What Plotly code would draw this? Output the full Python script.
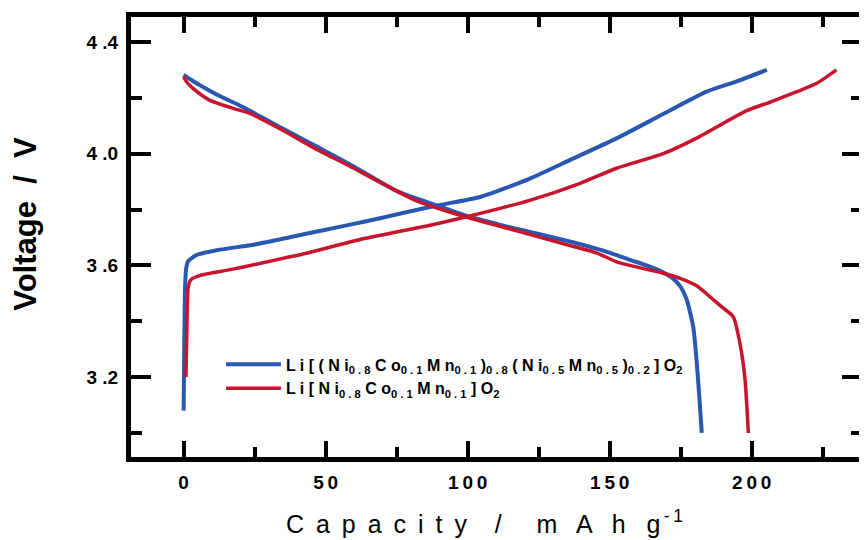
import plotly.graph_objects as go

# ---- data (capacity in mAh/g, voltage in V) ----
blue_charge_cap = [0.0, 0.2, 0.5, 0.9, 1.6, 4.5, 12, 25, 37, 50, 63.9, 76, 88.4, 104.7, 122.1, 136.1, 152.4, 168.8, 184.1, 194.7, 205.3]
blue_charge_v = [3.08, 3.30, 3.52, 3.59, 3.615, 3.637, 3.655, 3.675, 3.70, 3.728, 3.757, 3.785, 3.813, 3.846, 3.912, 3.978, 4.055, 4.142, 4.222, 4.259, 4.30]

blue_dis_cap = [0.0, 3.0, 5.6, 12, 20.7, 34.7, 46, 58, 75.5, 89.5, 98.8, 116.3, 133.8, 145.3, 152.4, 157.1, 163, 168.8, 172, 174.7, 177.1, 179.4, 180.6, 181.5, 182.4]
blue_dis_v = [4.282, 4.262, 4.246, 4.21, 4.168, 4.091, 4.03, 3.965, 3.864, 3.813, 3.78, 3.733, 3.691, 3.66, 3.637, 3.62, 3.60, 3.575, 3.555, 3.527, 3.477, 3.379, 3.256, 3.133, 3.0]

red_charge_cap = [0.8, 1.2, 1.6, 2.5, 6, 16, 26, 37, 40.6, 63.9, 87.2, 100, 122.1, 139.6, 152.4, 168.8, 180.6, 198.2, 206.5, 215.9, 222.9, 229.8]
red_charge_v = [3.20, 3.40, 3.52, 3.548, 3.565, 3.584, 3.605, 3.63, 3.637, 3.697, 3.745, 3.775, 3.834, 3.894, 3.948, 4.0, 4.056, 4.154, 4.185, 4.222, 4.252, 4.30]

red_dis_cap = [0.0, 1.2, 3.3, 9.1, 17.2, 23.1, 34.7, 46, 58, 81.4, 98.8, 116.3, 133.8, 145.3, 152.4, 157.1, 168.8, 175, 180.6, 186.5, 190, 193.5, 195.9, 197.6, 198.8]
red_dis_v = [4.276, 4.255, 4.234, 4.192, 4.163, 4.145, 4.085, 4.02, 3.958, 3.834, 3.775, 3.727, 3.677, 3.645, 3.613, 3.60, 3.572, 3.553, 3.527, 3.477, 3.447, 3.416, 3.317, 3.194, 3.0]

blue_name = ("L i [ ( N i<sub>0 . 8</sub> C o<sub>0 . 1</sub> M n<sub>0 . 1</sub> )<sub>0 . 8</sub>"
             " ( N i<sub>0 . 5</sub> M n<sub>0 . 5</sub> )<sub>0 . 2</sub> ] O<sub>2</sub>")
red_name = "L i [ N i<sub>0 . 8</sub> C o<sub>0 . 1</sub> M n<sub>0 . 1</sub> ] O<sub>2</sub>"

x_tickvals = [0, 50, 100, 150, 200]
x_ticktext = ["0", "5\u20090", "1\u20090\u20090", "1\u20095\u20090", "2\u20090\u20090"]
x_minor_vals = [25, 75, 125, 175, 225]
y_tickvals = [3.2, 3.6, 4.0, 4.4]
y_ticktext = ["3\u00a0.2", "3\u00a0.6", "4\u00a0.0", "4\u00a0.4"]
y_minor_vals = [3.0, 3.4, 3.8, 4.2]

x_title_words = ["Capacity", "/", "mAh", "g"]
y_title = "Voltage\u00a0\u00a0/\u00a0\u00a0V"

BLUE = "#2a58b0"
RED = "#c8142c"

sep = "\u00a0\u2009"
x_title = (sep.join(x_title_words[0]) + "\u00a0" * 4 + x_title_words[1] +
           "\u00a0" * 5 + "\u00a0\u00a0\u2009".join(x_title_words[2]) + "\u00a0" * 3 +
           x_title_words[3] + "<sup>\u2009-\u20091</sup>")

fig = go.Figure()
fig.add_trace(go.Scatter(x=blue_charge_cap, y=blue_charge_v, mode="lines",
                         line=dict(color=BLUE, width=4, shape="spline", smoothing=0.6),
                         name=blue_name, legendgroup="b", showlegend=True))
fig.add_trace(go.Scatter(x=blue_dis_cap, y=blue_dis_v, mode="lines",
                         line=dict(color=BLUE, width=4, shape="spline", smoothing=0.6),
                         name=blue_name, legendgroup="b", showlegend=False))
fig.add_trace(go.Scatter(x=red_charge_cap, y=red_charge_v, mode="lines",
                         line=dict(color=RED, width=3.5, shape="spline", smoothing=0.6),
                         name=red_name, legendgroup="r", showlegend=True))
fig.add_trace(go.Scatter(x=red_dis_cap, y=red_dis_v, mode="lines",
                         line=dict(color=RED, width=3.5, shape="spline", smoothing=0.6),
                         name=red_name, legendgroup="r", showlegend=False))

FONT = "Liberation Sans, Arial, sans-serif"

# page body has an 8px default margin, so the figure is 8px smaller than the window
fig.update_layout(
    width=859, height=532,
    margin=dict(l=123, r=0, t=9, b=83),
    paper_bgcolor="white", plot_bgcolor="white",
    font=dict(family=FONT, color="black"),
    showlegend=True,
    legend=dict(x=0.123, y=0.249, xanchor="left", yanchor="top",
                bgcolor="rgba(0,0,0,0)", borderwidth=0,
                font=dict(size=16, family=FONT, color="black", weight="bold"),
                itemwidth=55, tracegroupgap=0),
    xaxis=dict(range=[-18.53, 238.8], tickmode="array", tickvals=x_tickvals, ticktext=x_ticktext,
               ticks="inside", ticklen=16, tickwidth=4, tickcolor="black",
               showline=True, linewidth=5, linecolor="black", mirror="ticks",
               showgrid=False, zeroline=False, ticklabelstandoff=4,
               tickfont=dict(size=19, family=FONT, weight="bold"),
               minor=dict(tickmode="array", tickvals=x_minor_vals, ticks="inside",
                          ticklen=10, tickwidth=4, tickcolor="black", showgrid=False)),
    yaxis=dict(range=[2.914, 4.4895], tickmode="array", tickvals=y_tickvals, ticktext=y_ticktext,
               ticks="inside", ticklen=20, tickwidth=4, tickcolor="black",
               showline=True, linewidth=5, linecolor="black", mirror="ticks",
               showgrid=False, zeroline=False, ticklabelstandoff=4,
               tickfont=dict(size=19, family=FONT, weight="bold"),
               minor=dict(tickmode="array", tickvals=y_minor_vals, ticks="inside",
                          ticklen=11, tickwidth=4, tickcolor="black", showgrid=False)),
    annotations=[
        dict(text=y_title, xref="paper", yref="paper", x=-0.1454, y=0.5295,
             xanchor="center", yanchor="middle", textangle=-90, showarrow=False,
             font=dict(size=31, family=FONT, weight="bold", color="black")),
        dict(text=x_title, xref="paper", yref="paper",
             x=0.2092, y=-0.148, xanchor="left", yanchor="middle", showarrow=False,
             font=dict(size=25, family=FONT, color="black")),
    ],
)

fig.write_html("out.html")
